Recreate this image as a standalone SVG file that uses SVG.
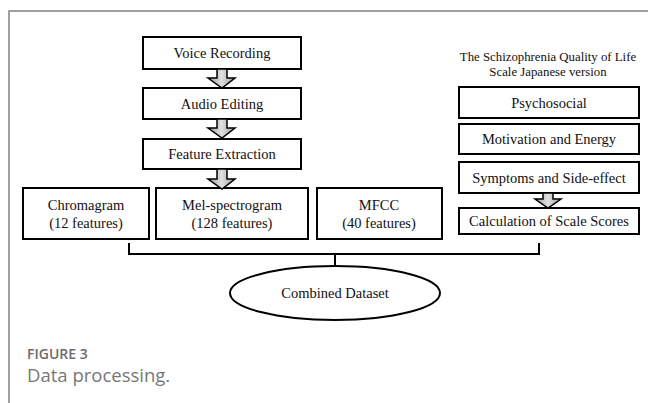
<svg xmlns="http://www.w3.org/2000/svg" width="648" height="403" viewBox="0 0 648 403">
<defs>
<style>
.box{fill:#fff;stroke:#000;stroke-width:2}
.t{font-family:"Liberation Serif","Times New Roman",serif;font-size:14.5px;fill:#111;text-anchor:middle}
.arr{stroke:#000;stroke-width:1.5;stroke-linejoin:miter;fill:url(#g)}
.con{fill:none;stroke:#000;stroke-width:2}
</style>
<linearGradient id="g" x1="0" x2="1" y1="0" y2="0">
<stop offset="0" stop-color="#999"/><stop offset="0.5" stop-color="#e0e0e0"/><stop offset="1" stop-color="#999"/>
</linearGradient>
</defs>
<rect x="0" y="0" width="648" height="403" fill="#fff"/>
<path d="M9 403 V11 H648" fill="none" stroke="#808080" stroke-width="1.5"/>

<g id="voice"><rect class="box" x="143" y="37" width="158" height="32"/><text class="t" x="222" y="58">Voice Recording</text></g>
<g id="audio"><rect class="box" x="143" y="88" width="158" height="31"/><text class="t" x="222" y="109">Audio Editing</text></g>
<g id="feature"><rect class="box" x="143" y="139" width="158" height="30"/><text class="t" x="222" y="159">Feature Extraction</text></g>
<g id="chroma"><rect class="box" x="23" y="188" width="126" height="51"/><text class="t" x="86" y="210">Chromagram</text><text class="t" x="86" y="228">(12 features)</text></g>
<g id="mel"><rect class="box" x="156" y="188" width="152" height="51"/><text class="t" x="232" y="210">Mel-spectrogram</text><text class="t" x="232" y="228">(128 features)</text></g>
<g id="mfcc"><rect class="box" x="317" y="188" width="125" height="51"/><text class="t" x="379" y="210">MFCC</text><text class="t" x="379" y="228">(40 features)</text></g>

<g id="sqls-title"><text class="t" x="548" y="61" style="font-size:12.8px">The Schizophrenia Quality of Life</text><text class="t" x="548" y="76" style="font-size:12.8px">Scale Japanese version</text></g>
<g id="psycho"><rect class="box" x="459" y="87" width="180" height="31"/><text class="t" x="549" y="108">Psychosocial</text></g>
<g id="motiv"><rect class="box" x="459" y="124" width="180" height="30"/><text class="t" x="549" y="144">Motivation and Energy</text></g>
<g id="sympt"><rect class="box" x="459" y="162" width="180" height="31"/><text class="t" x="549" y="183">Symptoms and Side-effect</text></g>
<g id="calc"><rect class="box" x="459" y="208" width="180" height="26"/><text class="t" x="549" y="226">Calculation of Scale Scores</text></g>

<g id="combined"><ellipse cx="335" cy="293" rx="105" ry="27" fill="#fff" stroke="#000" stroke-width="2"/><text class="t" x="335" y="298">Combined Dataset</text></g>

<g id="connectors">
<path class="arr" d="M217 69 H227 V78 H235 L222 88 L208 78 H217 Z"/>
<path class="arr" d="M217 119 H227 V128 H235 L222 138 L208 128 H217 Z"/>
<path class="arr" d="M217 169 H227 V179 H235 L222 189 L208 179 H217 Z"/>
<path class="arr" d="M543 193 H553 V199 H561 L548 208 L535 199 H543 Z"/>
<path class="con" d="M129 243 V254 H539 V243"/>
<path class="con" d="M335 254 V266"/>
</g>

<text x="27" y="359" style="font-family:'Open Sans','Lato',sans-serif;font-size:14px;font-weight:600;fill:#6b6b6b">FIGURE 3</text>
<text x="27" y="382" style="font-family:'Open Sans','Lato',sans-serif;font-size:18.5px;fill:#777">Data processing.</text>
</svg>
